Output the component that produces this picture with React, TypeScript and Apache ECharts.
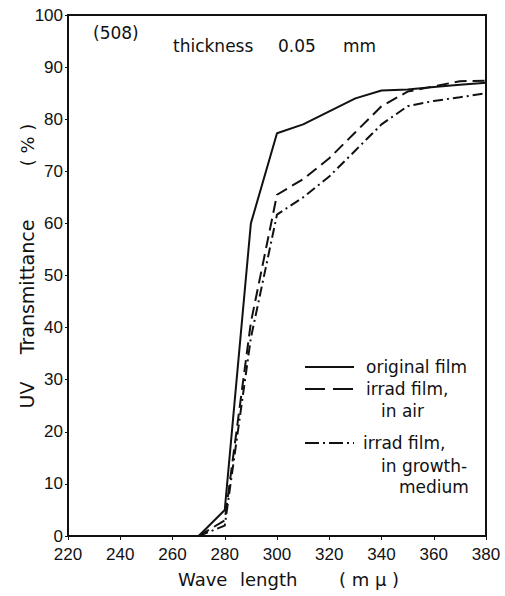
import React, { useEffect, useRef } from "react";
import * as echarts from "echarts";

const wavelengths = [270, 280, 290, 300, 310, 320, 330, 340, 350, 360, 370, 380];
const originalFilm = [0, 5, 60, 77.3, 79, 81.5, 84, 85.5, 85.7, 86.2, 86.6, 87];
const irradAir = [0, 3, 41, 65.5, 68.5, 72.5, 77.5, 82.5, 85.3, 86.3, 87.3, 87.4];
const irradMedium = [0, 2, 38, 61.7, 65, 69, 74, 79, 82.5, 83.5, 84.2, 85];

const seriesNames = ["original film", "irrad film, in air", "irrad film, in growth-medium"];
const xTicks = { min: 220, max: 380, interval: 20 };
const yTicks = { min: 0, max: 100, interval: 10 };

const INK = "#111";
const FONT = "DejaVu Sans";
const TICK_FONT = "Liberation Sans Narrow, Liberation Sans, sans-serif";

export default function App() {
  const ref = useRef<HTMLDivElement>(null);
  useEffect(() => {
    document.body.style.margin = "0";
    const chart = echarts.init(ref.current!, null, { renderer: "svg" });
    const pair = (ys: number[]) => wavelengths.map((x, i) => [x, ys[i]]);
    const txt = (text: string, x: number, y: number, size: number, align = "left", extra: any = {}) => ({
      type: "text",
      x,
      y,
      ...extra,
      style: { text, fill: INK, font: `${size}px ${FONT}`, align, verticalAlign: "middle" },
    });
    const legendLine = (y: number, dash: number[] | null) => ({
      type: "line",
      shape: { x1: 305, y1: y, x2: 354, y2: y },
      style: { stroke: INK, lineWidth: 2, lineDash: dash || undefined },
    });
    chart.setOption({
      animation: false,
      backgroundColor: "#fff",
      grid: { left: 68, right: 19, top: 15, bottom: 60, show: true, borderColor: INK, borderWidth: 2 },
      xAxis: {
        type: "value",
        min: xTicks.min,
        max: xTicks.max,
        interval: xTicks.interval,
        axisLine: { show: true, lineStyle: { color: INK, width: 2 } },
        axisTick: { show: true, length: 4, lineStyle: { color: INK } },
        axisLabel: { color: INK, fontSize: 17, lineHeight: 17, fontFamily: TICK_FONT, margin: 10 },
        splitLine: { show: false },
      },
      yAxis: {
        type: "value",
        min: yTicks.min,
        max: yTicks.max,
        interval: yTicks.interval,
        axisLine: { show: true, lineStyle: { color: INK, width: 2 } },
        axisTick: { show: true, length: 3, lineStyle: { color: INK } },
        axisLabel: { color: INK, fontSize: 17, lineHeight: 17, fontFamily: TICK_FONT, margin: 5 },
        splitLine: { show: false },
      },
      series: [
        {
          name: seriesNames[0],
          type: "line",
          data: pair(originalFilm),
          showSymbol: false,
          lineStyle: { color: INK, width: 2 },
        },
        {
          name: seriesNames[1],
          type: "line",
          data: pair(irradAir),
          showSymbol: false,
          lineStyle: { color: INK, width: 2, type: [12, 6] },
        },
        {
          name: seriesNames[2],
          type: "line",
          data: pair(irradMedium),
          showSymbol: false,
          lineStyle: { color: INK, width: 2, type: [10, 4, 2, 4] },
        },
      ],
      graphic: [
        txt("(508)", 93, 33, 17),
        txt("thickness", 173, 46, 17),
        txt("0.05", 278, 46, 17),
        txt("mm", 343, 46, 17),
        // y axis title
        txt("Transmittance", 27, 287, 19, "center", { rotation: Math.PI / 2 }),
        txt("UV", 27, 395, 19, "center", { rotation: Math.PI / 2 }),
        txt("( % )", 27, 145, 18, "center", { rotation: Math.PI / 2 }),
        // x axis title
        txt("Wave", 178, 579, 18),
        txt("length", 240, 579, 18),
        txt("( m μ )", 369, 579, 18, "center"),
        // legend
        legendLine(367, null),
        legendLine(389, [20, 8]),
        legendLine(443, [14, 4, 2, 4]),
        txt("original film", 366, 367, 17),
        txt("irrad film,", 366, 389, 17),
        txt("in air", 381, 411, 17),
        txt("irrad film,", 363, 443, 17),
        txt("in growth-", 381, 466, 17),
        txt("medium", 399, 487, 17),
      ],
    });
    return () => chart.dispose();
  }, []);
  return <div ref={ref} style={{ width: 505, height: 596 }} />;
}
